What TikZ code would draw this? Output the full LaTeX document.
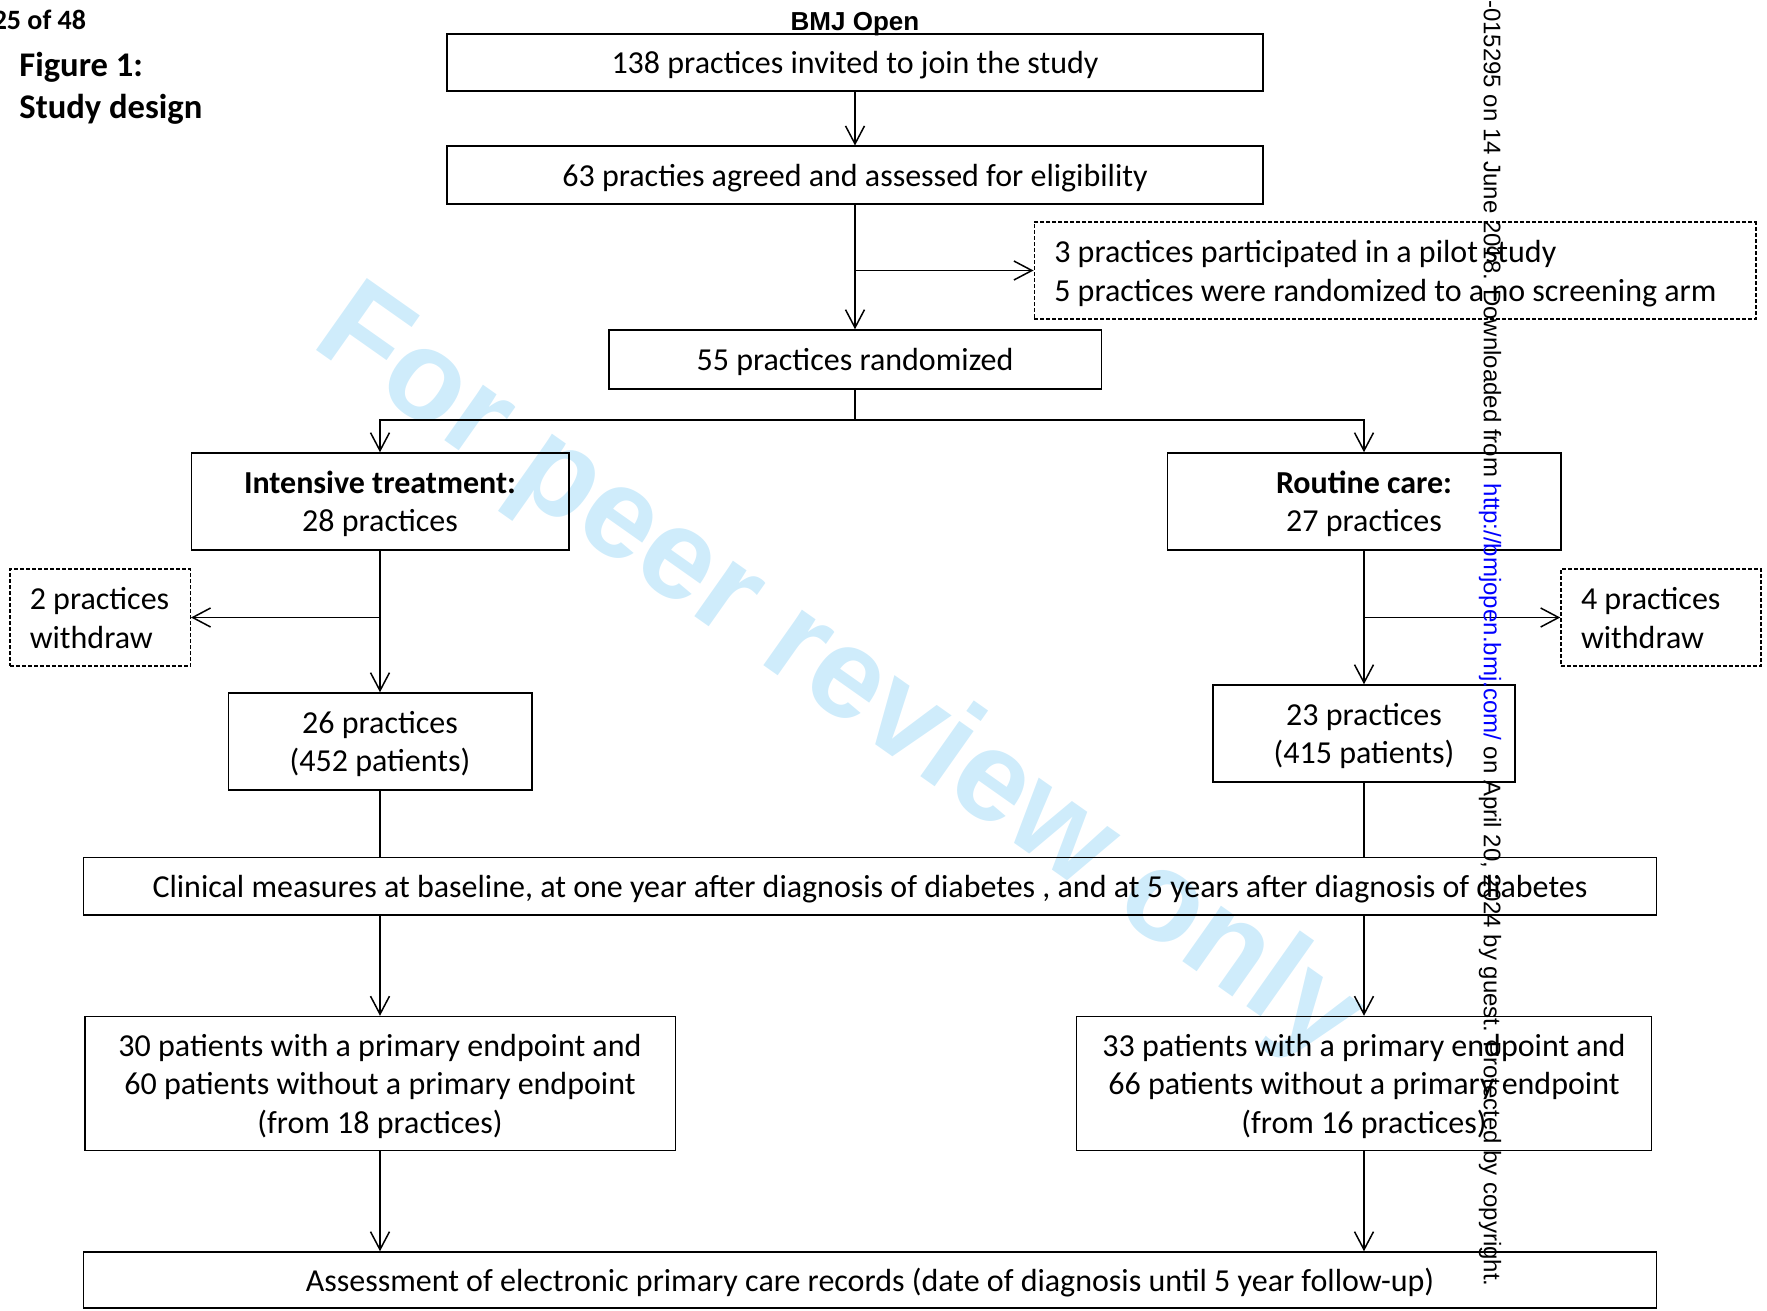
\documentclass[tikz,border=0pt]{standalone}
\usepackage{fontspec}
\setmainfont{Carlito}
\newfontfamily\arialf{Liberation Sans}
\usetikzlibrary{arrows.meta}
\definecolor{wmblue}{RGB}{207,236,251}
\definecolor{urlblue}{RGB}{0,0,255}
\newcommand\bt[1]{\raisebox{-1.75pt}[\height][\depth]{\begin{tabular}{@{}c@{}}#1\end{tabular}}}
\newcommand\lt[1]{\spaceskip=0pt\relax\xspaceskip=0pt\relax\raisebox{-1.9pt}[\height][\depth]{\begin{tabular}{@{}l@{}}#1\end{tabular}}}
\begin{document}
\begin{tikzpicture}[x=0.5pt,y=-0.5pt,
  box/.style={draw,line width=0.75pt,inner sep=0pt,align=center,font=\fontsize{16}{19.25}\selectfont},
  dbox/.style={box,dash pattern=on 2pt off 1pt,align=left,inner xsep=10pt},
  arr/.style={line width=0.75pt,-{Straight Barb[length=9pt,width=9.5pt]}},
  conn/.style={line width=0.75pt}]
\useasboundingbox (0,0) rectangle (1767,1311);
% watermark
\node[font=\arialf\bfseries\fontsize{64}{64}\selectfont,text=wmblue,rotate=-35.2,anchor=base west,inner sep=0pt] (wm) at (309,345) {For peer review only};
% header texts
\node[font=\bfseries\fontsize{14}{17}\selectfont,anchor=base east,inner sep=0pt] (pg) at (86.5,30) {25 of 48};
\node[font=\bfseries\fontsize{17.3}{20}\selectfont,anchor=base west,inner sep=0pt] (fig) at (19,77) {Figure 1:};
\node[font=\bfseries\fontsize{17.3}{20}\selectfont,anchor=base west,inner sep=0pt] (sd) at (19,118.5) {Study design};
\node[font=\arialf\bfseries\fontsize{13}{15}\selectfont,anchor=base,inner sep=0pt] (bmj) at (855,31) {BMJ Open};
% boxes
\node[box,minimum width=408pt,minimum height=28.5pt] (b1) at (855,62.5) {\bt{138 practices invited to join the study}};
\node[box,minimum width=408pt,minimum height=28.75pt] (b2) at (855,175) {\bt{63 practies agreed and assessed for eligibility}};
\node[dbox,text width=340.75pt,minimum height=48.5pt] (pilot) at (1395,270.5) {\lt{3 practices participated in a pilot study\\5 practices were randomized to a no screening arm}};
\node[box,minimum width=246.25pt,minimum height=29.5pt] (b3) at (855,359.5) {\bt{55 practices randomized}};
\node[box,minimum width=188.75pt,minimum height=48.5pt] (int) at (380,501.5) {\bt{\textbf{Intensive treatment:}\\28 practices}};
\node[box,minimum width=196.75pt,minimum height=48.5pt] (rout) at (1364,501.5) {\bt{\textbf{Routine care:}\\27 practices}};
\node[dbox,text width=70.25pt,minimum height=48.5pt] (w2) at (100,617.5) {\lt{2 practices\\withdraw}};
\node[dbox,text width=80pt,minimum height=48.5pt] (w4) at (1661,617.5) {\lt{4 practices\\withdraw}};
\node[box,minimum width=151.75pt,minimum height=48.5pt] (p26) at (380,741.5) {\bt{26 practices\\(452 patients)}};
\node[box,minimum width=151pt,minimum height=48.5pt] (p23) at (1364,733.5) {\bt{23 practices\\(415 patients)}};
\node[box,minimum width=786.5pt,minimum height=28.75pt] (clin) at (870,886) {\bt{Clinical measures at baseline, at one year after diagnosis of diabetes , and at 5 years after diagnosis of diabetes}};
\node[box,minimum width=295.25pt,minimum height=67pt] (e30) at (380,1083.5) {\bt{30 patients with a primary endpoint and\\60 patients without a primary endpoint\\(from 18 practices)}};
\node[box,minimum width=287.5pt,minimum height=67pt] (e33) at (1364,1083.5) {\bt{33 patients with a primary endpoint and\\66 patients without a primary endpoint\\(from 16 practices)}};
\node[box,minimum width=786.5pt,minimum height=28pt] (assess) at (870,1280) {\bt{Assessment of electronic primary care records (date of diagnosis until 5 year follow-up)}};
% connectors
\draw[arr] (b1) -- (b2);
\draw[arr] (b2) -- (b3);
\draw[arr] (b2.south |- pilot.west) -- (pilot.west);
\coordinate (split) at (855,420);
\draw[conn] (b3.south) -- (split);
\draw[arr] (split) -| (int.north);
\draw[arr] (split) -| (rout.north);
\draw[arr] (int) -- (p26);
\draw[arr] (int.south |- w2.east) -- (w2.east);
\draw[arr] (rout) -- (p23);
\draw[arr] (rout.south |- w4.west) -- (w4.west);
\draw[conn] (p26.south) -- (p26.south |- clin.north);
\draw[conn] (p23.south) -- (p23.south |- clin.north);
\draw[arr] (clin.south -| e30.north) -- (e30.north);
\draw[arr] (clin.south -| e33.north) -- (e33.north);
\draw[arr] (e30.south) -- (e30.south |- assess.north);
\draw[arr] (e33.south) -- (e33.south |- assess.north);
% side stamp
\node[font=\arialf\fontsize{12}{14}\selectfont,rotate=-90,anchor=east,inner sep=0pt] (stamp) at (1490,1287) {6-015295 on 14 June 2018. Downloaded from \textcolor{urlblue}{http://bmjopen.bmj.com/} on April 20, 2024 by guest. Protected by copyright.};
\end{tikzpicture}
\end{document}
